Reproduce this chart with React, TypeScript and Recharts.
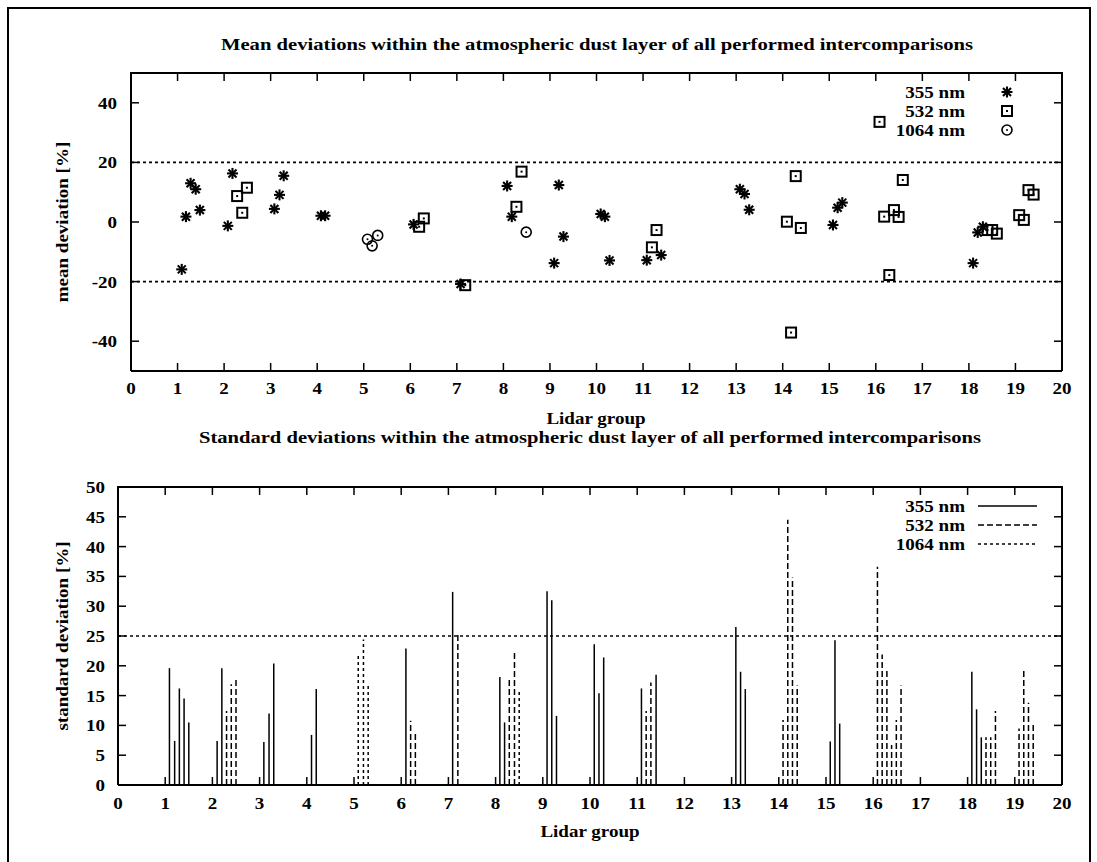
import React from 'react';
import { ReferenceLine, Scatter, ScatterChart, XAxis, YAxis } from 'recharts';

// lidar group axis
const groupTicks = [0, 1, 2, 3, 4, 5, 6, 7, 8, 9, 10, 11, 12, 13, 14, 15, 16, 17, 18, 19, 20];
const meanTicks = [-40, -20, 0, 20, 40];
const stdTicks = [0, 5, 10, 15, 20, 25, 30, 35, 40, 45, 50];

// mean deviations [group position, %]
const mean355: [number, number][] = [
  [1.09, -15.9], [1.18, 1.8], [1.28, 13], [1.39, 11], [1.48, 4],
  [2.08, -1.3], [2.18, 16.3],
  [3.08, 4.4], [3.19, 9.1], [3.28, 15.5],
  [4.08, 2.1], [4.17, 2.1],
  [6.07, -0.8],
  [7.08, -20.8],
  [8.08, 12.1], [8.18, 1.8],
  [9.09, -13.8], [9.19, 12.4], [9.29, -4.9],
  [10.09, 2.7], [10.18, 1.8], [10.28, -12.9],
  [11.08, -12.8], [11.39, -11.1],
  [13.08, 11], [13.18, 9.4], [13.28, 4.1],
  [15.08, -1], [15.18, 4.8], [15.28, 6.5],
  [18.09, -13.8], [18.19, -3.5], [18.3, -1.6],
];
const mean532: [number, number][] = [
  [2.28, 8.7], [2.39, 3.1], [2.49, 11.5],
  [6.19, -1.6], [6.29, 1.2],
  [7.18, -21.2],
  [8.28, 5.1], [8.39, 16.9],
  [11.19, -8.5], [11.29, -2.7],
  [14.09, 0.1], [14.18, -37.1], [14.28, 15.4], [14.39, -2],
  [16.08, 33.6], [16.18, 1.8], [16.29, -17.8], [16.39, 4], [16.49, 1.7], [16.58, 14.1],
  [18.4, -2.7], [18.5, -2.7], [18.6, -3.9],
  [19.08, 2.3], [19.18, 0.7], [19.28, 10.7], [19.39, 9.2],
];
const mean1064: [number, number][] = [
  [5.08, -5.8], [5.18, -8], [5.3, -4.5],
  [8.49, -3.4],
];

// standard deviations [group position, %]
const std355: [number, number][] = [
  [1.09, 19.6], [1.2, 7.4], [1.3, 16.2], [1.4, 14.5], [1.5, 10.5],
  [2.1, 7.4], [2.2, 19.6],
  [3.09, 7.2], [3.2, 12], [3.3, 20.4],
  [4.1, 8.4], [4.2, 16.1],
  [6.1, 22.9],
  [7.09, 32.4],
  [8.09, 18.1], [8.19, 10.5],
  [9.09, 32.5], [9.19, 31], [9.29, 11.6],
  [10.09, 23.6], [10.19, 15.4], [10.29, 21.4],
  [11.09, 16.2], [11.4, 18.5],
  [13.09, 26.5], [13.19, 19], [13.29, 16.1],
  [15.09, 7.3], [15.19, 24.3], [15.29, 10.3],
  [18.09, 19], [18.19, 12.7], [18.29, 8],
];
const std532: [number, number][] = [
  [2.3, 12.4], [2.4, 16.9], [2.5, 18],
  [6.2, 10.8], [6.3, 8.9],
  [7.2, 25.3],
  [8.29, 17.6], [8.4, 22.4],
  [11.19, 12.4], [11.29, 17.2],
  [14.09, 10.9], [14.19, 44.5], [14.29, 34.8], [14.39, 16.7],
  [16.09, 36.6], [16.19, 21.9], [16.29, 19.3], [16.39, 6.7], [16.49, 10.9], [16.59, 16.7],
  [18.39, 8], [18.49, 8], [18.59, 12.4],
  [19.09, 9.5], [19.19, 19.2], [19.29, 13.8], [19.39, 10.5],
];
const std1064: [number, number][] = [
  [5.09, 21.9], [5.2, 24.4], [5.3, 17.1],
  [8.5, 16.1],
];

const meanLimits = [20, -20];
const stdLimit = 25;

const FONT = '"Liberation Serif", "Times New Roman", serif';
const FS = 17;
const STRETCH = 1.12; // the original lettering is a bit wide
const axisLine = { stroke: '#000', strokeWidth: 2 };
const tickLine = { stroke: '#000', strokeWidth: 1.5 };

const DASH_532 = '6 3';
const DOT_1064 = '3 3';

// chart boxes (page coordinates) shared by the charts and the frame overlay
const Y_AXIS_W = 70;
const X_AXIS_H = 40;
const meanBox = { top: 0, width: 1097, height: 440, margin: { top: 73, right: 35, bottom: 29, left: 61 } };
const stdBox = { top: 430, width: 1097, height: 432, margin: { top: 57, right: 35, bottom: 37, left: 48 } };

const toPoints = (rows: [number, number][]) => rows.map(([x, y]) => ({ x, y }));

function WideText({ x, y, anchor, dy, children, rotate = 0 }: any) {
  return (
    <text
      transform={`translate(${x} ${y}) rotate(${rotate}) scale(${STRETCH} 1)`}
      textAnchor={anchor}
      dy={dy}
      fontFamily={FONT}
      fontWeight="bold"
      fontSize={FS}
      fill="#000"
    >
      {children}
    </text>
  );
}

function XTick({ x, y, payload }: any) {
  return <WideText x={x} y={y} anchor="middle" dy="0.71em">{payload.value}</WideText>;
}

function YTick({ x, y, payload }: any) {
  return <WideText x={x} y={y} anchor="end" dy="0.35em">{payload.value}</WideText>;
}

function StarMark({ cx, cy }: any) {
  const r = 5.5;
  const d = 4;
  return (
    <g stroke="#000" strokeWidth={2.1}>
      <line x1={cx - r} y1={cy} x2={cx + r} y2={cy} />
      <line x1={cx} y1={cy - r} x2={cx} y2={cy + r} />
      <line x1={cx - d} y1={cy - d} x2={cx + d} y2={cy + d} />
      <line x1={cx - d} y1={cy + d} x2={cx + d} y2={cy - d} />
    </g>
  );
}

function BoxMark({ cx, cy }: any) {
  return (
    <g>
      <rect x={cx - 5} y={cy - 5} width={10} height={10} fill="none" stroke="#000" strokeWidth={2} />
      <rect x={cx - 1} y={cy - 1} width={2} height={2} fill="#000" />
    </g>
  );
}

function CircleMark({ cx, cy }: any) {
  return (
    <g>
      <circle cx={cx} cy={cy} r={5} fill="none" stroke="#000" strokeWidth={1.6} />
      <circle cx={cx} cy={cy} r={1} fill="#000" />
    </g>
  );
}

const noShape = () => null;

function MeanChart() {
  return (
    <ScatterChart width={meanBox.width} height={meanBox.height} margin={meanBox.margin}>
      <XAxis
        type="number"
        dataKey="x"
        domain={[0, 20]}
        ticks={groupTicks}
        interval={0}
        allowDataOverflow
        axisLine={axisLine}
        tickLine={tickLine}
        tickSize={-8}
        tickMargin={19}
        height={X_AXIS_H}
        tick={XTick}
      />
      <YAxis
        type="number"
        dataKey="y"
        domain={[-50, 50]}
        ticks={meanTicks}
        interval={0}
        allowDataOverflow
        axisLine={axisLine}
        tickLine={tickLine}
        tickSize={-8}
        tickMargin={22}
        width={Y_AXIS_W}
        tick={YTick}
      />
      {meanLimits.map((v) => (
        <ReferenceLine key={v} y={v} stroke="#000" strokeWidth={1.6} strokeDasharray={DOT_1064} />
      ))}
      <Scatter data={toPoints(mean355)} shape={StarMark} isAnimationActive={false} />
      <Scatter data={toPoints(mean532)} shape={BoxMark} isAnimationActive={false} />
      <Scatter data={toPoints(mean1064)} shape={CircleMark} isAnimationActive={false} />
    </ScatterChart>
  );
}

function StdChart() {
  const series: { rows: [number, number][]; dash?: string }[] = [
    { rows: std355 },
    { rows: std532, dash: DASH_532 },
    { rows: std1064, dash: DOT_1064 },
  ];
  return (
    <ScatterChart width={stdBox.width} height={stdBox.height} margin={stdBox.margin}>
      <XAxis
        type="number"
        dataKey="x"
        domain={[0, 20]}
        ticks={groupTicks}
        interval={0}
        allowDataOverflow
        axisLine={axisLine}
        tickLine={tickLine}
        tickSize={-8}
        tickMargin={20}
        height={X_AXIS_H}
        tick={XTick}
      />
      <YAxis
        type="number"
        dataKey="y"
        domain={[0, 50]}
        ticks={stdTicks}
        interval={0}
        allowDataOverflow
        axisLine={axisLine}
        tickLine={tickLine}
        tickSize={-8}
        tickMargin={21}
        width={Y_AXIS_W}
        tick={YTick}
      />
      <ReferenceLine y={stdLimit} stroke="#000" strokeWidth={1.6} strokeDasharray={DOT_1064} />
      {series.map((s, si) =>
        s.rows.map(([x, v], i) => (
          <ReferenceLine
            key={`${si}-${i}`}
            segment={[{ x, y: 0 }, { x, y: v }]}
            stroke="#000"
            strokeWidth={1.5}
            strokeDasharray={s.dash}
          />
        ))
      )}
      <Scatter data={toPoints(std355)} shape={noShape} isAnimationActive={false} />
    </ScatterChart>
  );
}

// gnuplot closes the plot box: top and right border with inward mirror ticks
function MirrorFrame({ box, yDomain, yTicks }: { box: typeof meanBox; yDomain: [number, number]; yTicks: number[] }) {
  const left = box.margin.left + Y_AXIS_W;
  const right = box.width - box.margin.right;
  const top = box.top + box.margin.top;
  const bottom = box.top + box.height - box.margin.bottom - X_AXIS_H;
  const gx = (v: number) => left + ((v - 0) / 20) * (right - left);
  const gy = (v: number) => bottom - ((v - yDomain[0]) / (yDomain[1] - yDomain[0])) * (bottom - top);
  return (
    <g stroke="#000">
      <line x1={left - 1} x2={right + 1} y1={top} y2={top} strokeWidth={2} />
      <line x1={right} x2={right} y1={top} y2={bottom} strokeWidth={2} />
      {groupTicks.map((t) => (
        <line key={`t${t}`} x1={gx(t)} x2={gx(t)} y1={top} y2={top + 8} strokeWidth={1.5} />
      ))}
      {yTicks.map((v) => (
        <line key={`r${v}`} x1={right - 8} x2={right} y1={gy(v)} y2={gy(v)} strokeWidth={1.5} />
      ))}
    </g>
  );
}

const titleStyle = { fontFamily: FONT, fontWeight: 'bold' as const, fontSize: FS, fill: '#000' };

function Overlay() {
  const legendNames = ['355 nm', '532 nm', '1064 nm'];
  const topRows = [92, 111, 130];
  const botRows = [506, 525, 544];
  return (
    <svg width={1097} height={862} style={{ position: 'absolute', left: 0, top: 0, pointerEvents: 'none' }}>
      <rect x={8} y={8} width={1082} height={900} fill="none" stroke="#000" strokeWidth={2} />
      <MirrorFrame box={meanBox} yDomain={[-50, 50]} yTicks={meanTicks} />
      <MirrorFrame box={stdBox} yDomain={[0, 50]} yTicks={stdTicks} />
      <text x={597} y={44} textAnchor="middle" dominantBaseline="central" textLength={752} lengthAdjust="spacingAndGlyphs" {...titleStyle}>
        Mean deviations within the atmospheric dust layer of all performed intercomparisons
      </text>
      <text x={590} y={437} textAnchor="middle" dominantBaseline="central" textLength={782} lengthAdjust="spacingAndGlyphs" {...titleStyle}>
        Standard deviations within the atmospheric dust layer of all performed intercomparisons
      </text>
      <WideText x={596} y={418} anchor="middle" dy="0.35em">Lidar group</WideText>
      <WideText x={590} y={831} anchor="middle" dy="0.35em">Lidar group</WideText>
      <WideText x={62} y={222} anchor="middle" dy="0.35em" rotate={-90}>mean deviation [%]</WideText>
      <WideText x={62} y={636} anchor="middle" dy="0.35em" rotate={-90}>standard deviation [%]</WideText>
      {legendNames.map((n, i) => (
        <WideText key={`t${n}`} x={965} y={topRows[i]} anchor="end" dy="0.35em">{n}</WideText>
      ))}
      <StarMark cx={1007} cy={topRows[0]} />
      <BoxMark cx={1007} cy={topRows[1]} />
      <CircleMark cx={1007} cy={topRows[2]} />
      {legendNames.map((n, i) => (
        <WideText key={`b${n}`} x={965} y={botRows[i]} anchor="end" dy="0.35em">{n}</WideText>
      ))}
      <line x1={978} x2={1037} y1={botRows[0]} y2={botRows[0]} stroke="#000" strokeWidth={1.5} />
      <line x1={978} x2={1037} y1={botRows[1]} y2={botRows[1]} stroke="#000" strokeWidth={1.5} strokeDasharray={DASH_532} />
      <line x1={978} x2={1037} y1={botRows[2]} y2={botRows[2]} stroke="#000" strokeWidth={1.5} strokeDasharray={DOT_1064} />
    </svg>
  );
}

export default function App() {
  return (
    <div style={{ position: 'absolute', left: 0, top: 0, width: 1097, height: 862, background: '#fff', overflow: 'hidden' }}>
      <div style={{ position: 'absolute', left: 0, top: meanBox.top }}>
        <MeanChart />
      </div>
      <div style={{ position: 'absolute', left: 0, top: stdBox.top }}>
        <StdChart />
      </div>
      <Overlay />
    </div>
  );
}
